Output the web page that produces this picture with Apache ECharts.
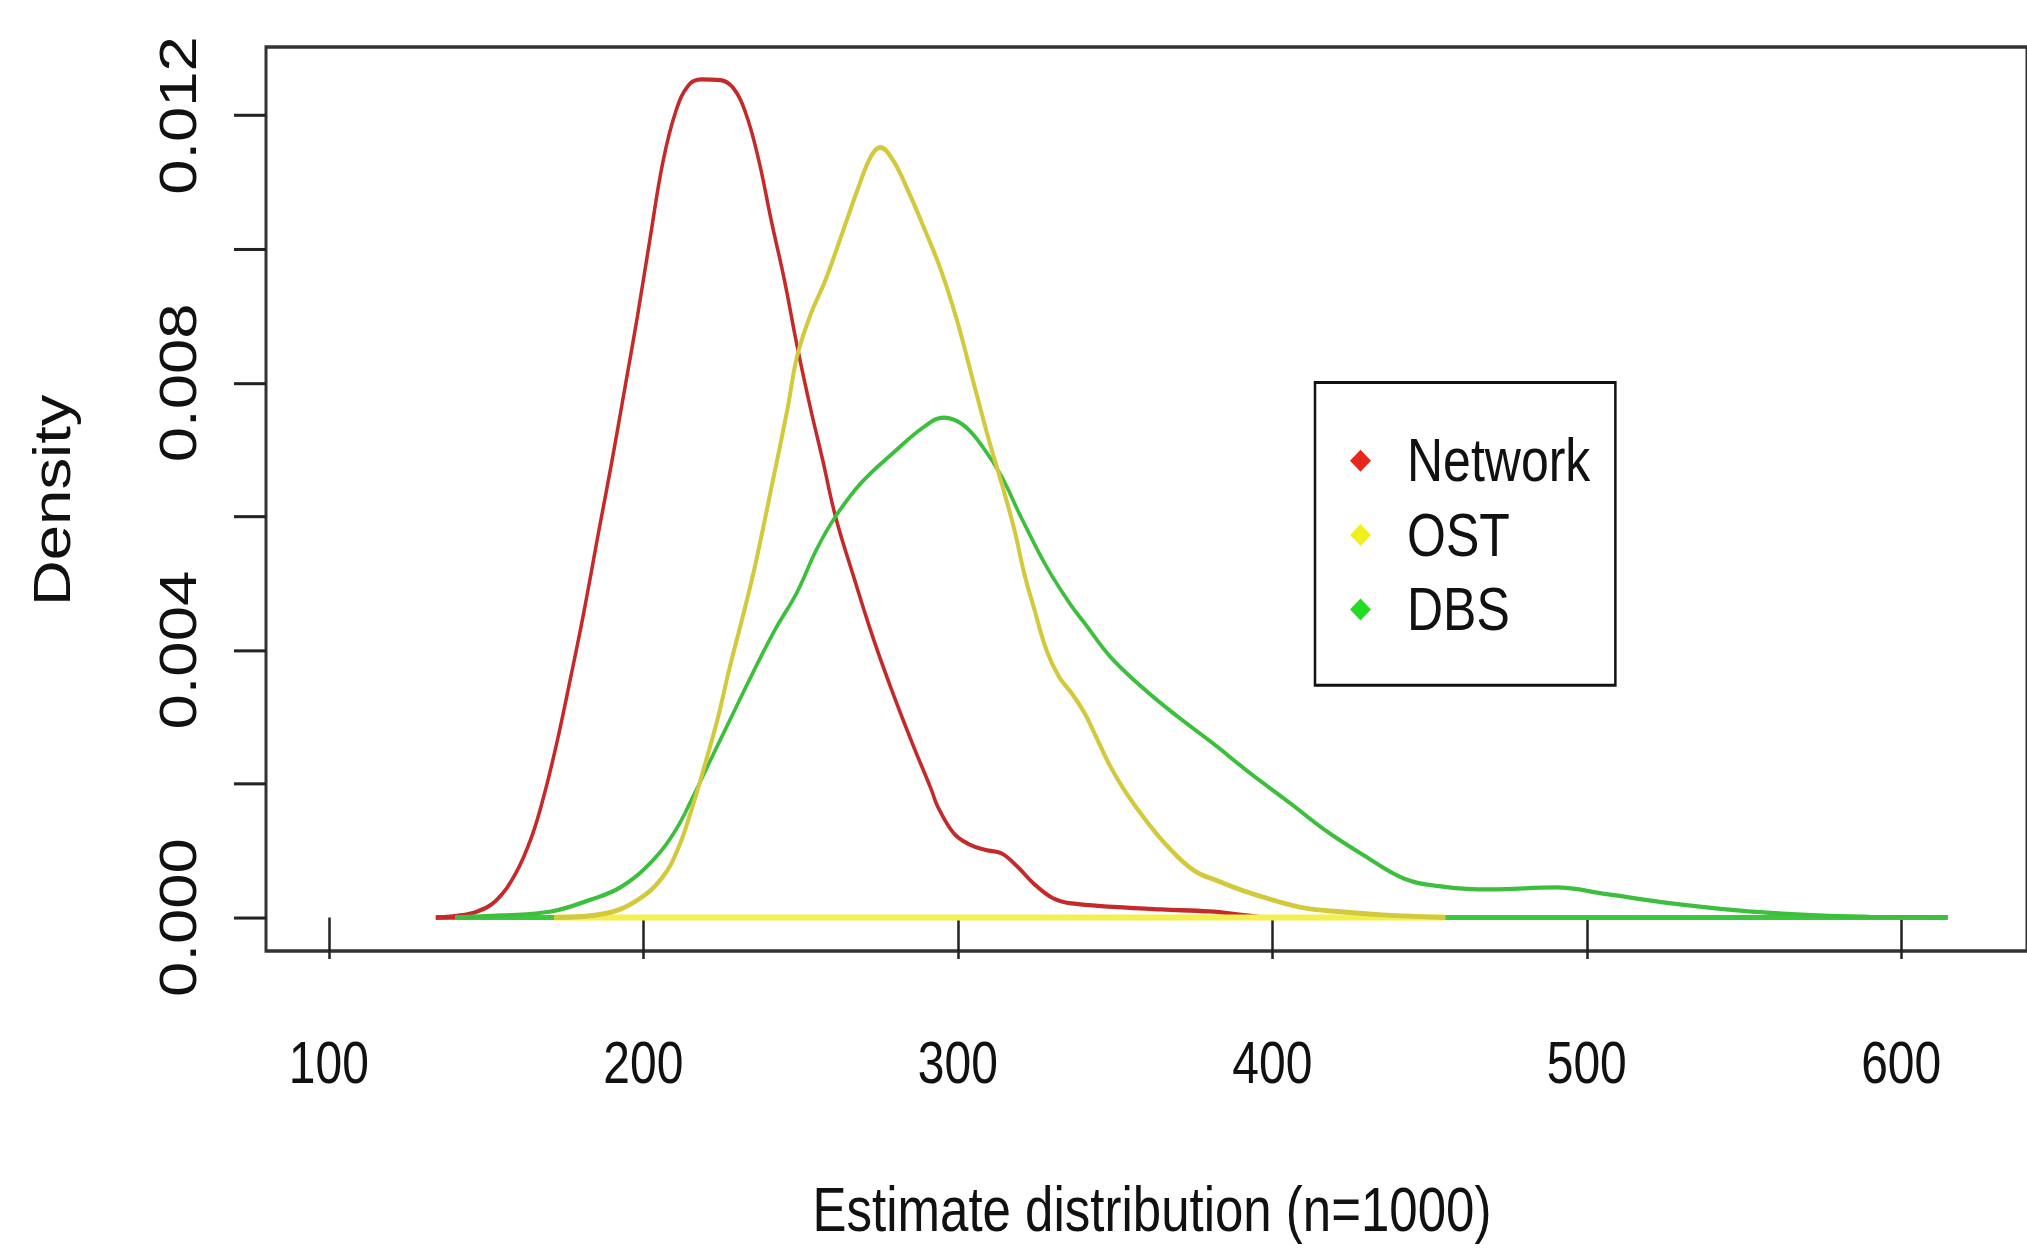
<!DOCTYPE html>
<html lang="en">
<head>
<meta charset="UTF-8">
<title>Estimate distribution</title>
<script src="https://cdn.jsdelivr.net/npm/echarts@6.0.0/dist/echarts.min.js"></script>
<style>
  html, body { margin: 0; padding: 0; background: #fff; width: 2027px; height: 1249px; }
  /* the original R picture was stretched vertically, so draw short and stretch */
  #box { width: 2027px; height: 1024px; transform: scaleY(1.22); transform-origin: 0 0; }
</style>
</head>
<body>
<div id="box"></div>
<script>
// density curves
var networkX = [134.0,140,147.2,153.3,159.4,164.5,168.6,172.7,176.7,180.8,185.9,189.9,194.0,198.1,202.1,206.2,210.3,214.3,218.4,224.5,228.6,232.6,236.7,240.8,244.8,248.9,253.0,257.0,261.1,267.2,273.3,279.4,285.5,291.6,293.6,298.7,303.8,308.9,313.9,319.0,324.1,330.2,336.3,349.5,364.8,380.0,390.2,397.3];
var networkY = [0,0.00002,0.00009,0.00026,0.00066,0.00121,0.00186,0.00266,0.00355,0.00450,0.00580,0.00680,0.00789,0.00899,0.01015,0.01130,0.01206,0.01245,0.01254,0.01253,0.01241,0.01203,0.01133,0.01040,0.00955,0.00855,0.00765,0.00685,0.00600,0.00505,0.00415,0.00335,0.00261,0.00191,0.00166,0.00126,0.00109,0.00101,0.00096,0.00076,0.00051,0.00029,0.00021,0.00016,0.00012,0.00009,0.00004,0];

var ostX = [171.6,187.9,198.1,206.2,211.3,215.3,219.4,223.5,227.5,231.6,235.7,240.8,245.8,248.9,253.0,258.0,263.1,268.2,272.3,275.3,279.4,284.5,289.5,294.6,299.7,304.8,309.9,313.9,318.0,321.1,324.1,328.2,332.2,336.3,340.4,343.4,348.5,353.6,359.7,366.8,374.9,383.0,390.2,400.3,410.5,420.7,435.0,455.0];
var ostY = [0,0.00006,0.00026,0.00061,0.00106,0.00161,0.00226,0.00295,0.00375,0.00450,0.00530,0.00645,0.00760,0.00840,0.00900,0.00955,0.01022,0.01090,0.01138,0.01152,0.01133,0.01084,0.01029,0.00969,0.00894,0.00804,0.00714,0.00650,0.00580,0.00515,0.00465,0.00400,0.00360,0.00335,0.00305,0.00276,0.00226,0.00186,0.00146,0.00106,0.00071,0.00054,0.00041,0.00026,0.00014,0.00009,0.00004,0];

var dbsX = [140.1,155,170.6,182.8,193.0,203.1,210.3,215.3,221.4,228.6,234.7,241.8,248.9,255.0,261.1,269.2,279.4,289.5,295.6,301.7,307.8,313.9,320.0,328.2,336.3,340.4,348.5,359.7,369.8,381.0,393.2,405.4,417.6,429.1,442.0,454.8,469.3,490.2,506.3,525.6,549.7,573.8,589.9,614.8];
var dbsY = [0,0.00003,0.00009,0.00026,0.00046,0.00086,0.00131,0.00176,0.00236,0.00306,0.00365,0.00430,0.00487,0.00550,0.00600,0.00650,0.00695,0.00735,0.00748,0.00737,0.00705,0.00660,0.00600,0.00525,0.00465,0.00440,0.00390,0.00340,0.00301,0.00261,0.00215,0.00172,0.00128,0.00093,0.00058,0.00046,0.00042,0.00045,0.00035,0.00022,0.00010,0.00003,0.00001,0];

var names = ['Network', 'OST', 'DBS'];
var xTicks = [100, 200, 300, 400, 500, 600];
var yTicks = [0, 0.002, 0.004, 0.006, 0.008, 0.010, 0.012];
var yLabels = [0, 0.004, 0.008, 0.012];

var font = "'Liberation Sans', Arial, Helvetica, sans-serif";

function pts(xs, ys) {
    return xs.map(function (x, i) { return [x, ys[i]]; });
}
// closing edge of each density polygon, along zero
function base(xs) {
    return [[xs[0], 0], [xs[xs.length - 1], 0]];
}

function curve(name, xs, ys, color, width, z) {
    return {
        name: name, type: 'line', data: pts(xs, ys),
        smooth: 0.4, showSymbol: false, z: z,
        lineStyle: { color: color, width: width }
    };
}
function edge(xs, color, width, z) {
    return {
        type: 'line', data: base(xs), showSymbol: false, z: z, silent: true,
        lineStyle: { color: color, width: width }
    };
}

var myChart = echarts.init(document.getElementById('box'), null, { renderer: 'svg' });

var option = {
    animation: false,
    backgroundColor: '#fff',
    grid: {
        left: 266, top: 38.5, bottom: 244.5, right: -76,
        show: true, borderColor: '#333', borderWidth: 3
    },
    xAxis: {
        type: 'value', min: 80, max: 640,
        splitLine: { show: false },
        axisLine: { show: false },
        axisTick: { show: true, customValues: xTicks, length: 34, inside: false,
            lineStyle: { color: '#222', width: 2.5 } },
        axisLabel: { customValues: xTicks, margin: 68, color: '#111',
            fontFamily: font, fontSize: 48 }
    },
    yAxis: {
        type: 'value', min: -0.000501, max: 0.013025,
        splitLine: { show: false },
        axisLine: { show: false },
        axisTick: { show: true, customValues: yTicks, length: 32, inside: false,
            lineStyle: { color: '#222', width: 2.5 } },
        axisLabel: { customValues: yLabels, rotate: 90, margin: 62, color: '#111',
            fontFamily: font, fontSize: 52,
            formatter: function (v) { return v.toFixed(3); } }
    },
    legend: {
        orient: 'vertical', left: 1315, top: 313.6,
        padding: [39, 25, 37, 35],
        borderColor: '#111', borderWidth: 2.5, backgroundColor: '#fff',
        itemGap: 11, itemWidth: 21, itemHeight: 18, icon: 'diamond',
        selectedMode: false,
        textStyle: { fontFamily: font, fontSize: 50, lineHeight: 50, color: '#111',
            padding: [0, 0, 0, 31] },
        data: [
            { name: names[0], itemStyle: { color: '#e8281c' } },
            { name: names[1], itemStyle: { color: '#f2f01a' } },
            { name: names[2], itemStyle: { color: '#22dd22' } }
        ]
    },
    graphic: [
        { type: 'text', x: 1152, y: 966, silent: true,
          style: { text: 'Estimate distribution (n=1000)', fill: '#111',
            font: '51px ' + font, textAlign: 'center', textVerticalAlign: 'top' } },
        { type: 'text', x: 52, y: 410, rotation: Math.PI / 2, silent: true,
          style: { text: 'Density', fill: '#111',
            font: '52px ' + font, textAlign: 'center', textVerticalAlign: 'middle' } }
    ],
    series: [
        edge(networkX, '#c42a2a', 3.5, 1),
        curve(names[0], networkX, networkY, '#c42a2a', 3.5, 2),
        edge(dbsX, '#3cc83c', 4, 3),
        curve(names[2], dbsX, dbsY, '#3cbf3c', 3.5, 4),
        edge(ostX, '#f4f050', 5, 5),
        curve(names[1], ostX, ostY, '#d2c93c', 4, 6)
    ]
};

myChart.setOption(option);
</script>
</body>
</html>
